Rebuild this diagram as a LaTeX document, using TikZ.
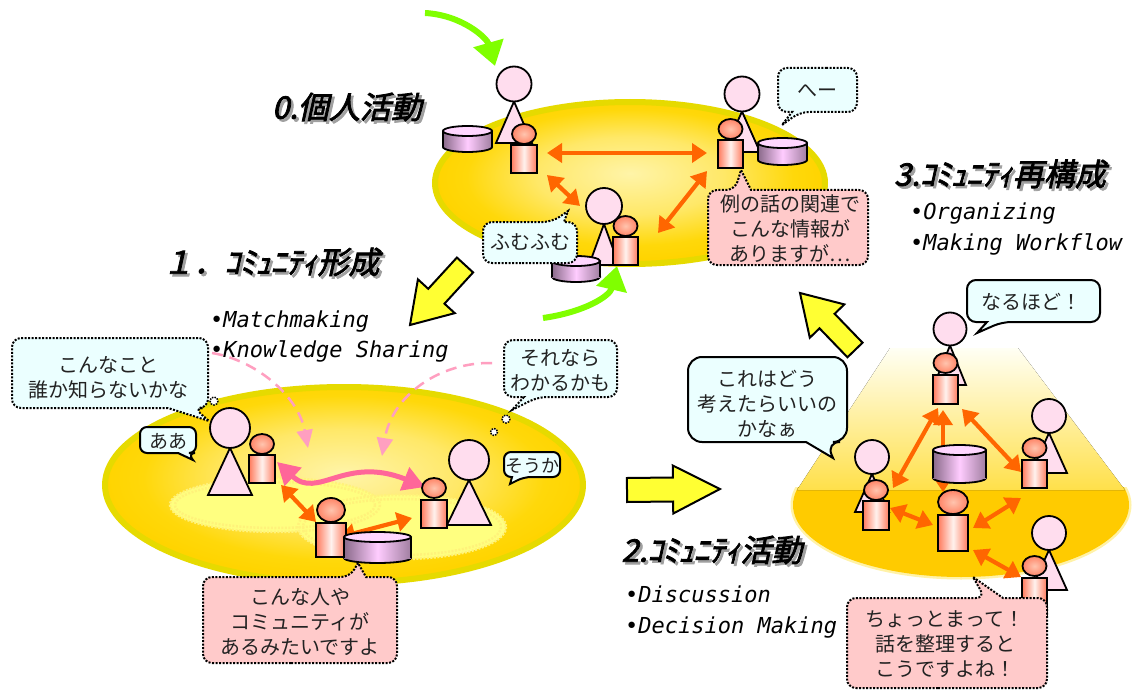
\documentclass[tikz,border=0pt]{standalone}
\usepackage{fontspec}
\usetikzlibrary{arrows.meta,calc}
\newfontfamily\jpfont{Noto Sans CJK JP}
\newfontfamily\jptitle{Noto Sans CJK JP}[FakeSlant=0.22,FakeBold=2.5]
\newfontfamily\bulletfont{DejaVu Sans Mono}

% palette
\definecolor{skin}{HTML}{FFDDEE}
\definecolor{salmon}{HTML}{FF7A5C}
\definecolor{salmonlt}{HTML}{FFF2EE}
\definecolor{headin}{HTML}{FFC4AE}
\definecolor{headout}{HTML}{FF8466}
\definecolor{cylA}{HTML}{8A6A8A}
\definecolor{cylB}{HTML}{FFCCFF}
\definecolor{cylC}{HTML}{A07EA0}
\definecolor{cyltop}{HTML}{FFD6FF}
\definecolor{arrorange}{HTML}{FF6600}
\definecolor{yin}{HTML}{FFF4A8}
\definecolor{ymid}{HTML}{FFE868}
\definecolor{ydeep}{HTML}{FFD80A}
\definecolor{yout}{HTML}{FFD400}
\definecolor{yrim}{HTML}{E6DA00}
\definecolor{arrowyellow}{HTML}{FFFF33}
\definecolor{leafgreen}{HTML}{80FF00}
\definecolor{pinkline}{HTML}{FF6699}
\definecolor{pinkdash}{HTML}{FF9FC0}
\definecolor{bubcyan}{HTML}{EBFFFF}
\definecolor{bubpink}{HTML}{FFCACA}
\definecolor{inkgray}{HTML}{222222}
\definecolor{paleyellow}{HTML}{FFFF80}
\definecolor{dotyellow}{HTML}{FFF27A}
\definecolor{gold}{HTML}{FFCB00}
\definecolor{conetop}{HTML}{FFFFF4}
\definecolor{conemid}{HTML}{FFE04A}
\definecolor{conerim}{HTML}{FFF2A8}
\definecolor{shadowgray}{HTML}{A0A0A0}

\pgfdeclareradialshading{glow}{\pgfpoint{0bp}{3bp}}{%
  color(0bp)=(yin); color(12bp)=(ymid); color(21bp)=(ydeep); color(25bp)=(yout); color(50bp)=(yout)}

\tikzset{
  figline/.style={draw=black, line width=1.8pt},
  dotbub/.style={draw=black, line width=2pt, dash pattern=on 2pt off 1.5pt, rounded corners=9pt},
  solidbub/.style={draw=black, line width=2pt, rounded corners=9pt},
  thoughtdot/.style={draw=black, line width=1.5pt, dash pattern=on 1.5pt off 1.2pt, fill=white},
  bubtext/.style={font={\jpfont\fontsize{20}{25}\selectfont}, text=inkgray, align=center, inner sep=0pt},
  titletext/.style={font={\jptitle\fontsize{31}{31}\selectfont}, inner sep=0pt},
  bullettext/.style={font={\bulletfont\itshape\fontsize{22}{22}\selectfont}, anchor=base west, inner sep=0pt},
  duplex/.style={arrorange, line width=4.2pt, {Triangle[length=15pt,width=19pt]}-{Triangle[length=15pt,width=19pt]}},
  pinkwave/.style={pinkline, line width=5pt, {Triangle[length=22pt,width=24pt]}-{Triangle[length=22pt,width=24pt]}},
  pinkdashed/.style={pinkdash, line width=2.5pt, dash pattern=on 11pt off 7pt, -{Triangle[length=18pt,width=16pt]}},
  greenarrow/.style={leafgreen, line width=6pt, -{Triangle[length=24pt,width=30pt]}},
  yarrow/.style={draw=black, fill=arrowyellow, line width=2pt, line join=miter},
  community/.style={draw=yrim, line width=6pt, shade, shading=glow},
  subgroup/.style={dotyellow, line width=2.5pt, dash pattern=on 2pt off 1.5pt},
}

% person: head x, head y, head radius, base y, half base width
\newcommand\person[5]{%
  \draw[figline, fill=skin, line join=miter] (#1,{#2+#3}) -- ({#1-#5},#4) -- ({#1+#5},#4) -- cycle;
  \draw[figline, fill=skin] (#1,#2) circle[radius=#3];}
% small companion: body x1 y1 x2 y2, head centre y, head radii
\newcommand\buddy[7]{%
  \draw[figline, left color=salmon, right color=salmon, middle color=salmonlt] (#1,#2) rectangle (#3,#4);
  \draw[figline, inner color=headin, outer color=headout] ({(#1+#3)/2},#5) ellipse[x radius=#6, y radius=#7];}
% database drum: x1 y1 x2 y2
\newcommand\drum[4]{%
  \draw[figline, left color=cylA, right color=cylC, middle color=cylB] ({(#1+#3)/2},{#4-5}) ellipse[x radius={(#3-#1)/2}, y radius=5];
  \fill[left color=cylA, right color=cylC, middle color=cylB] (#1,{#2+5}) rectangle (#3,{#4-5});
  \draw[figline] (#1,{#2+5}) -- (#1,{#4-5}) (#3,{#2+5}) -- (#3,{#4-5});
  \draw[figline, fill=cyltop] ({(#1+#3)/2},{#2+5}) ellipse[x radius={(#3-#1)/2}, y radius=5];}
% block arrow: tail, tip, shaft half width, head half width, head length
\newcommand\blockarrow[5]{%
  \coordinate (#2-neck) at ($(#2)!#5pt!(#1)$);
  \draw[yarrow] ($(#1)!#3pt!90:(#2)$) -- ($(#2-neck)!#3pt!90:(#2)$) -- ($(#2-neck)!#4pt!90:(#2)$) -- (#2)
    -- ($(#2-neck)!#4pt!-90:(#2)$) -- ($(#2-neck)!#3pt!-90:(#2)$) -- ($(#1)!#3pt!-90:(#2)$) -- cycle;}
% stage heading with drop shadow
\newcommand\stagetitle[4]{%
  \node[titletext, text=shadowgray] (#1-shadow) at ({#2+2.5},{#3+2.5}) {#4};
  \node[titletext] (#1) at (#2,#3) {#4};}

\begin{document}
\begin{tikzpicture}[x=1pt,y=-1pt]
\useasboundingbox (0,0) rectangle (1141,690);
\fill[white] (0,0) rectangle (1141,690);

% ---------- community areas ----------
\draw[community] (630,183) ellipse[x radius=195, y radius=81];
\draw[community] (344,485) ellipse[x radius=239, y radius=98];

% stage 2 cone
\begin{scope}
  \clip (780,487) rectangle (1141,600);
  \draw[conerim, line width=5pt] (961,505) ellipse[x radius=168, y radius=72];
  \fill[gold] (961,505) ellipse[x radius=168, y radius=72];
\end{scope}
\fill[top color=conetop, bottom color=conemid] (890,348) -- (1018,348) -- (1125,490) -- (797,490) -- cycle;

% stage 1 sub-groups
\fill[paleyellow] (275,505) ellipse[x radius=105, y radius=27];
\fill[paleyellow] (402,527) ellipse[x radius=104, y radius=32];
\draw[subgroup] (275,505) ellipse[x radius=105, y radius=27];
\draw[subgroup] (275,505) ellipse[x radius=100, y radius=23];
\draw[subgroup] (402,527) ellipse[x radius=104, y radius=32];
\draw[subgroup] (402,527) ellipse[x radius=99, y radius=28];

% ---------- stage 0 : individual activity ----------
\coordinate (p0a-r) at (547,153); \coordinate (p0b-l) at (707,153);
\coordinate (p0a-d) at (547,175); \coordinate (p0c-u) at (580,206);
\coordinate (p0c-r) at (658,233); \coordinate (p0b-d) at (707,171);
\draw[duplex] (p0a-r) -- (p0b-l);
\draw[duplex] (p0a-d) -- (p0c-u);
\draw[duplex] (p0c-r) -- (p0b-d);

\person{514}{84}{17.5}{143}{18}
\buddy{511}{145}{537}{173}{134}{12}{10}
\drum{443}{126}{492}{152}

\person{742}{94}{17.5}{152}{18}
\buddy{718}{140}{743}{168}{129}{12}{10}
\drum{758}{138}{807}{165}

\person{604}{206}{18}{265}{15}
\buddy{613}{237}{638}{265}{226}{12}{10}
\drum{552}{256}{600}{282}

% ---------- stage 1 : community forming ----------
\coordinate (p1a-r) at (277,462); \coordinate (p1b-l) at (425,487);
\draw[pinkwave] (p1a-r) .. controls (318,500) and (345,455) .. (p1b-l);
\coordinate (p1a-d) at (281,485); \coordinate (p1c-u) at (316,522);
\draw[duplex] (p1a-d) -- (p1c-u);
\coordinate (p1c-r) at (340,537); \coordinate (p1b-d) at (412,518);
\draw[duplex] (p1c-r) -- (p1b-d);

\person{230}{428}{20}{495}{22}
\buddy{249}{455}{275}{483}{444}{12}{10}
\person{469}{460}{20}{525}{22}
\buddy{421}{500}{447}{528}{488}{12}{10}
\buddy{316}{523}{346}{557}{510}{14}{12}
\drum{344}{532}{411}{563}

% ---------- stage 2 : community activity ----------
\coordinate (p2t-a) at (938,408); \coordinate (p2l-a) at (893,488);
\coordinate (p2t-b) at (943,410); \coordinate (p2c-a) at (943,492);
\coordinate (p2t-c) at (962,409); \coordinate (p2r-a) at (1021,472);
\coordinate (p2l-b) at (890,508); \coordinate (p2c-b) at (933,525);
\coordinate (p2r-b) at (1021,498); \coordinate (p2c-c) at (973,528);
\coordinate (p2c-d) at (973,550); \coordinate (p2s-a) at (1021,577);
\draw[duplex] (p2t-a) -- (p2l-a);
\draw[duplex] (p2t-b) -- (p2c-a);
\draw[duplex] (p2t-c) -- (p2r-a);
\draw[duplex] (p2l-b) -- (p2c-b);
\draw[duplex] (p2r-b) -- (p2c-c);
\draw[duplex] (p2c-d) -- (p2s-a);

\person{950}{329}{16.5}{385}{16}
\buddy{933}{375}{958}{404}{363}{12}{10}
\person{872}{457}{17}{512}{17}
\buddy{863}{501}{889}{530}{490}{12}{10}
\person{1049}{416}{17}{473}{18}
\buddy{1022}{460}{1047}{488}{448}{12}{10}
\person{1049}{533}{17}{590}{18}
\buddy{1022}{578}{1047}{615}{566}{12}{10}
\drum{933}{445}{986}{483}
\buddy{938}{515}{968}{551}{502}{15}{12}

% ---------- speech bubbles ----------
\draw[dotbub, fill=bubcyan] (817,68) -- (857,68) -- (857,112) -- (800,112) [sharp corners] -- (782,125) -- (792,112) [rounded corners=9pt] -- (778,112) -- (778,68) -- cycle;
\node[bubtext] (t-hee) at (817,91) {へー};

\draw[dotbub, fill=bubpink] (790,265) -- (708,265) -- (708,190) -- (735,190) [sharp corners] -- (741,170) -- (751,190) [rounded corners=9pt] -- (868,190) -- (868,265) -- cycle;
\node[bubtext] (t-rei) at (790,229) {例の話の関連で\\こんな情報が\\ありますが…};

\draw[dotbub, fill=bubcyan] (530,263) -- (483,263) -- (483,222) -- (552,222) [sharp corners] -- (568,211) -- (564,222) [rounded corners=9pt] -- (577,222) -- (577,263) -- cycle;
\node[bubtext] (t-fumu) at (530,242) {ふむふむ};

\draw[dotbub, fill=bubcyan] (110,338) -- (208,338) -- (208,408) -- (194,408) [sharp corners] -- (209,421) -- (168,408) [rounded corners=9pt] -- (12,408) -- (12,338) -- cycle;
\draw[thoughtdot] (214,401) circle[radius=4];
\node[bubtext] (t-konna) at (108,378) {こんなこと\\誰か知らないかな};

\draw[dotbub, fill=bubcyan] (560,340) -- (617,340) -- (617,397) -- (538,397) [sharp corners] -- (512,410) -- (524,397) [rounded corners=9pt] -- (504,397) -- (504,340) -- cycle;
\draw[thoughtdot] (506,419) circle[radius=4];
\draw[thoughtdot] (494,432) circle[radius=3.5];
\node[bubtext] (t-sore) at (560,370) {それなら\\わかるかも};

\draw[solidbub, fill=bubcyan, rounded corners=7pt] (168,427) -- (196,427) -- (196,453) -- (188,453) [sharp corners] -- (193,460) -- (178,453) [rounded corners=7pt] -- (140,453) -- (140,427) -- cycle;
\node[bubtext, font={\jpfont\fontsize{19}{19}\selectfont}] (t-aa) at (168,441) {ああ};

\draw[solidbub, fill=bubcyan, rounded corners=7pt] (532,452) -- (560,452) -- (560,477) -- (524,477) [sharp corners] -- (510,484) -- (512,477) [rounded corners=7pt] -- (504,477) -- (504,452) -- cycle;
\node[bubtext, font={\jpfont\fontsize{18}{18}\selectfont}] (t-souka) at (532,466) {そうか};

\draw[dotbub, fill=bubpink] (300,663) -- (203,663) -- (203,577) -- (350,577) [sharp corners] -- (358,563) -- (366,577) [rounded corners=9pt] -- (397,577) -- (397,663) -- cycle;
\node[bubtext] (t-hito) at (300,622) {こんな人や\\コミュニティが\\あるみたいですよ};

\draw[solidbub, fill=bubcyan] (1033,280) -- (1100,280) -- (1100,322) -- (1002,322) [sharp corners] -- (977,333) -- (987,322) [rounded corners=9pt] -- (967,322) -- (967,280) -- cycle;
\node[bubtext] (t-naru) at (1031,302) {なるほど！};

\draw[solidbub, fill=bubcyan, rounded corners=14pt] (767,357) -- (847,357) -- (847,442) -- (826,442) [sharp corners] -- (833,458) -- (806,442) [rounded corners=14pt] -- (688,442) -- (688,357) -- cycle;
\node[bubtext] (t-kore) at (767,404) {これはどう\\考えたらいいの\\かなぁ};

\draw[dotbub, fill=bubpink] (947,688) -- (847,688) -- (847,598) -- (985,598) [sharp corners] -- (973,577) -- (1003,598) [rounded corners=9pt] -- (1047,598) -- (1047,688) -- cycle;
\node[bubtext] (t-chotto) at (945,644) {ちょっとまって！\\話を整理すると\\こうですよね！};

% ---------- flow between stages ----------
\coordinate (f01-tail) at (465,265); \coordinate (f01-tip) at (410,325);
\blockarrow{f01-tail}{f01-tip}{11}{25}{39}
\coordinate (f12-tail) at (627,490); \coordinate (f12-tip) at (720,489);
\blockarrow{f12-tail}{f12-tip}{12}{24}{47}
\coordinate (f23-tail) at (855,350); \coordinate (f23-tip) at (800,293);
\blockarrow{f23-tail}{f23-tip}{10.5}{24}{39}

\coordinate (g-in) at (425,13); \coordinate (g-in-end) at (495,66);
\draw[greenarrow] (g-in) .. controls (462,15) and (487,38) .. (g-in-end);
\coordinate (g-back) at (543,318); \coordinate (g-back-end) at (617,266);
\draw[greenarrow] (g-back) .. controls (585,312) and (610,296) .. (g-back-end);

\coordinate (k-from1) at (212,353); \coordinate (k-to1) at (308,448);
\draw[pinkdashed] (k-from1) .. controls (255,360) and (298,395) .. (k-to1);
\coordinate (k-from2) at (492,363); \coordinate (k-to2) at (382,456);
\draw[pinkdashed] (k-from2) .. controls (440,362) and (392,395) .. (k-to2);

% ---------- headings ----------
\stagetitle{title0}{347}{107}{0.個人活動}
\stagetitle{title1}{271}{262}{１．ｺﾐｭﾆﾃｨ形成}
\stagetitle{title2}{712}{550}{2.ｺﾐｭﾆﾃｨ活動}
\stagetitle{title3}{1000}{174}{3.ｺﾐｭﾆﾃｨ再構成}

\node[bullettext] (b-match) at (210,327) {•Matchmaking};
\node[bullettext] (b-know) at (210,357) {•Knowledge Sharing};
\node[bullettext] (b-disc) at (625,602) {•Discussion};
\node[bullettext] (b-deci) at (625,633) {•Decision Making};
\node[bullettext] (b-org) at (910,219) {•Organizing};
\node[bullettext] (b-flow) at (910,250) {•Making Workflow};
\end{tikzpicture}
\end{document}
